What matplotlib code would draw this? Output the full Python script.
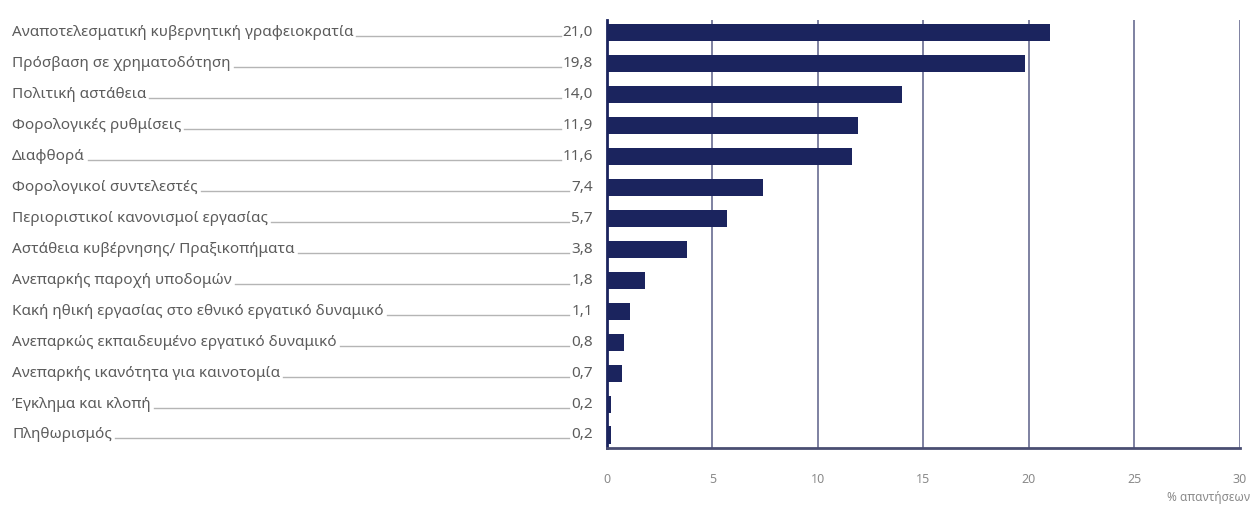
import matplotlib.pyplot as plt
from matplotlib.lines import Line2D

# Categories and values (% of responses)
categories = [
    "Αναποτελεσματική κυβερνητική γραφειοκρατία",
    "Πρόσβαση σε χρηματοδότηση",
    "Πολιτική αστάθεια",
    "Φορολογικές ρυθμίσεις",
    "Διαφθορά",
    "Φορολογικοί συντελεστές",
    "Περιοριστικοί κανονισμοί εργασίας",
    "Αστάθεια κυβέρνησης/ Πραξικοπήματα",
    "Ανεπαρκής παροχή υποδομών",
    "Κακή ηθική εργασίας στο εθνικό εργατικό δυναμικό",
    "Ανεπαρκώς εκπαιδευμένο εργατικό δυναμικό",
    "Ανεπαρκής ικανότητα για καινοτομία",
    "Έγκλημα και κλοπή",
    "Πληθωρισμός",
]
values = [21.0, 19.8, 14.0, 11.9, 11.6, 7.4, 5.7, 3.8, 1.8, 1.1, 0.8, 0.7, 0.2, 0.2]
xticks = [0, 5, 10, 15, 20, 25, 30]
xlabel = "% απαντήσεων"

bar_color = "#1b245e"
text_color = "#5c5c5c"

plt.rcParams["font.family"] = ["Noto Sans", "DejaVu Sans"]

fig = plt.figure(figsize=(12.53, 5.05), dpi=100)
ax = fig.add_axes([0.4844, 0.1129, 0.5052, 0.8475])

y = list(range(len(categories)))
ax.barh(y, values, height=0.55, color=bar_color, zorder=3)

ax.set_xlim(0, 30)
ax.set_ylim(len(categories) - 1 + 0.42, -0.42)
ax.set_yticks([])
ax.set_xticks(xticks)
ax.set_xticklabels([str(t) for t in xticks], color="#8a8a8a", fontsize=9)
ax.tick_params(axis="x", length=0, pad=18)

# vertical grid lines
for t in xticks[1:]:
    ax.axvline(t, color="#74779a", linewidth=1.3, zorder=2)

for side in ["top", "right"]:
    ax.spines[side].set_visible(False)
ax.spines["left"].set_color(bar_color)
ax.spines["left"].set_linewidth(2)
ax.spines["bottom"].set_color("#4a4e72")
ax.spines["bottom"].set_linewidth(2)

fig.text(1250 / 1253, 1 - 497 / 505, xlabel, ha="right", va="center",
         color="#8a8a8a", fontsize=8.5)

# category labels and values, placed at each bar's row
label_x = 12 / 1253
value_x = 593 / 1253
labels = []
nums = []
for i, (cat, val) in enumerate(zip(categories, values)):
    yfig = ax.transData.transform((0, i))[1] / fig.bbox.height
    labels.append(fig.text(label_x, yfig, cat, ha="left", va="center",
                           color=text_color, fontsize=11))
    nums.append(fig.text(value_x, yfig, f"{val:.1f}".replace(".", ","), ha="right",
                         va="center", color=text_color, fontsize=11))

# leader lines between label and value
fig.canvas.draw()
renderer = fig.canvas.get_renderer()
for i in range(len(values)):
    lb = labels[i].get_window_extent(renderer)
    nb = nums[i].get_window_extent(renderer)
    ybase = (lb.y0 + 4) / fig.bbox.height
    x0 = (lb.x1 + 3) / fig.bbox.width
    x1 = (nb.x0 - 2) / fig.bbox.width
    fig.add_artist(Line2D([x0, x1], [ybase, ybase], color="#b5b5b5",
                          linewidth=1, transform=fig.transFigure))

fig.savefig("out.png", dpi=100)
